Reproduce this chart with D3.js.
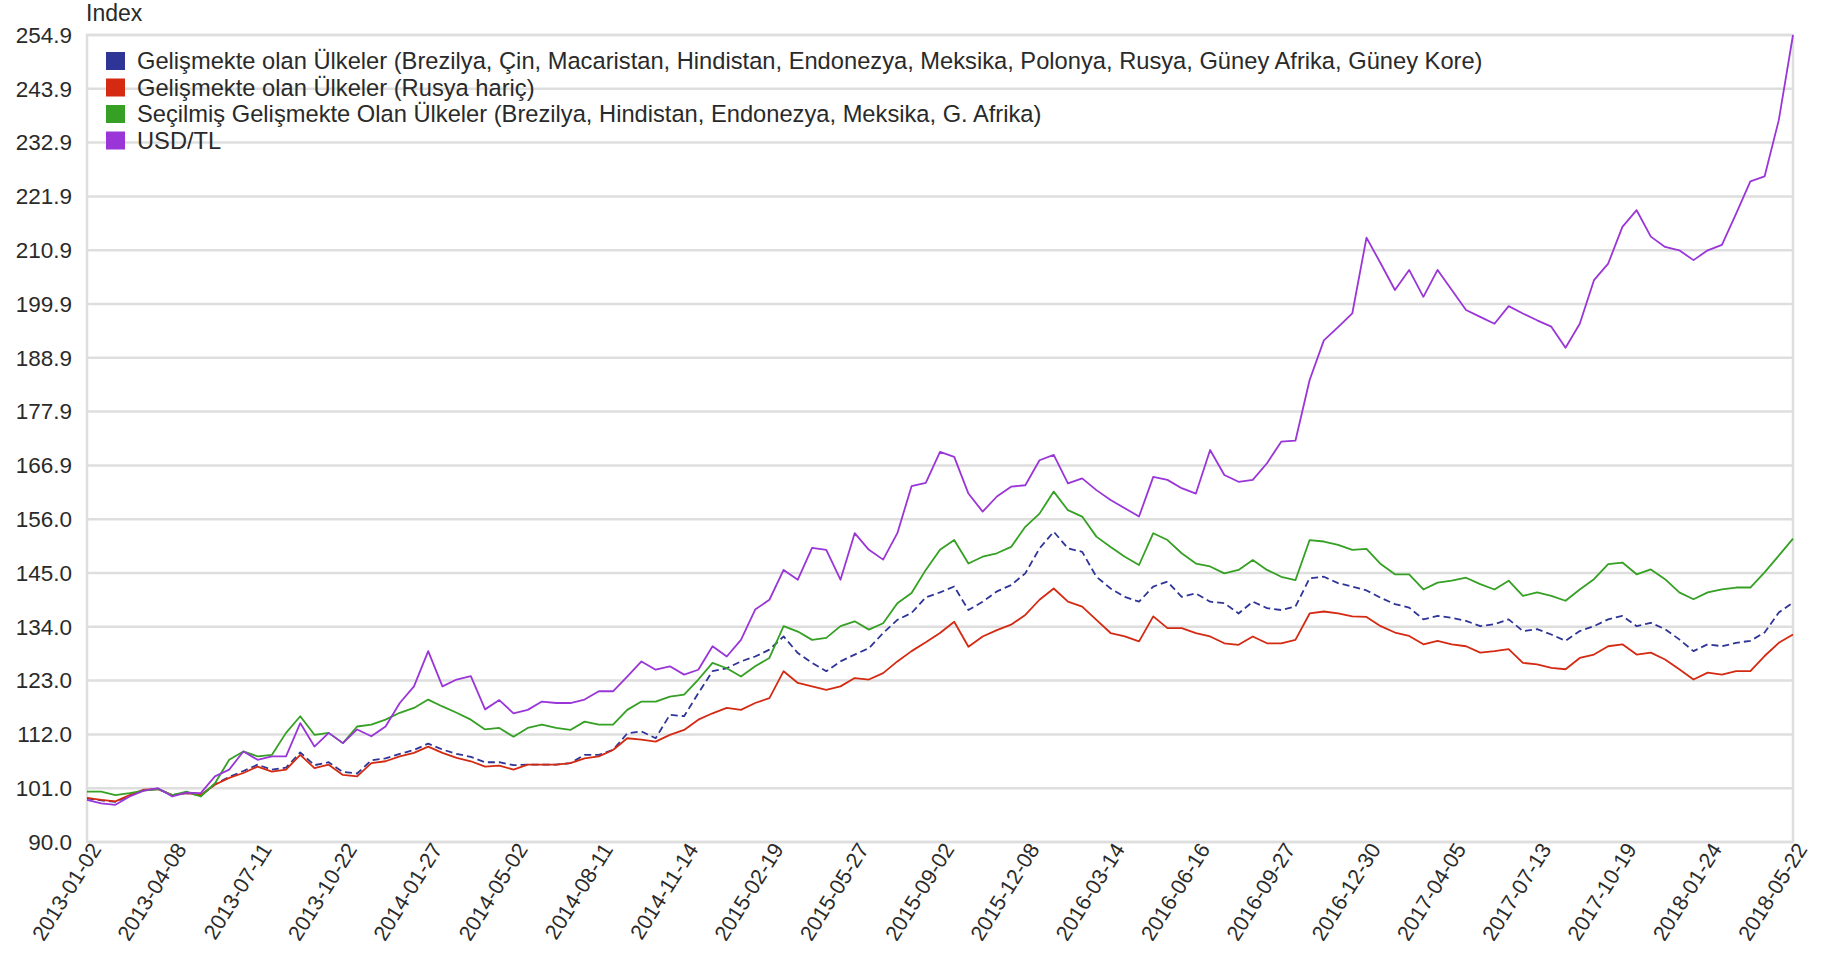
<!DOCTYPE html>
<html>
<head>
<meta charset="utf-8">
<script src="https://cdn.jsdelivr.net/npm/d3@7"></script>
<style>
  body { margin: 0; background: #fff; }
  svg { display: block; font-family: "Liberation Sans", Arial, sans-serif; }
</style>
</head>
<body>
<div id="chart"></div>
<script>
// x tick labels, one every 6 points
const dateLabels = ['2013-01-02','2013-04-08','2013-07-11','2013-10-22','2014-01-27','2014-05-02','2014-08-11',
  '2014-11-14','2015-02-19','2015-05-27','2015-09-02','2015-12-08','2016-03-14','2016-06-16','2016-09-27',
  '2016-12-30','2017-04-05','2017-07-13','2017-10-19','2018-01-24','2018-05-22']
const yTickLabels = ['90.0','101.0','112.0','123.0','134.0','145.0','156.0','166.9','177.9','188.9',
  '199.9','210.9','221.9','232.9','243.9','254.9']

const seriesNames = [
  'Gelişmekte olan Ülkeler (Brezilya, Çin, Macaristan, Hindistan, Endonezya, Meksika, Polonya, Rusya, Güney Afrika, Güney Kore)',
  'Gelişmekte olan Ülkeler (Rusya hariç)',
  'Seçilmiş Gelişmekte Olan Ülkeler (Brezilya, Hindistan, Endonezya, Meksika, G. Afrika)',
  'USD/TL'
]

const emAll = [98.9,98.5,98.2,99.5,100.6,100.8,99.6,100.0,99.5,101.8,103.3,104.5,105.8,104.8,105.2,108.3,105.7,106.3,104.3,104.0,
  106.7,107.1,108.0,108.8,110.1,108.9,108.0,107.4,106.3,106.3,105.7,105.8,105.8,105.8,106.1,107.8,107.8,108.8,112.2,112.6,
  111.2,116.0,115.7,120.4,124.9,125.5,126.9,127.9,129.3,132.0,128.6,126.6,124.9,126.9,128.3,129.6,132.7,135.4,136.8,140.0,
  141.0,142.2,137.4,139.1,141.2,142.5,144.9,150.0,153.4,150.0,149.3,144.2,141.8,140.1,139.1,142.2,143.2,140.1,140.8,139.1,
  138.8,136.7,139.1,137.8,137.4,138.1,143.9,144.2,142.9,142.2,141.4,139.9,138.6,137.9,135.5,136.2,135.8,135.2,134.1,134.5,
  135.5,133.1,133.5,132.4,131.1,133.1,134.1,135.5,136.2,134.1,134.8,133.5,131.4,129.0,130.4,130.0,130.7,131.1,132.8,136.9,138.9]

const emExRussia = [99.0,98.6,98.3,99.6,100.7,100.8,99.6,100.0,99.6,101.7,103.1,104.1,105.4,104.4,104.8,107.8,105.1,105.8,103.7,103.4,
  106.1,106.5,107.5,108.2,109.5,108.2,107.2,106.5,105.4,105.6,104.8,105.8,105.8,105.8,106.1,107.1,107.5,108.8,111.2,110.9,
  110.5,111.9,112.9,115.0,116.3,117.4,117.0,118.4,119.4,124.9,122.5,121.8,121.1,121.8,123.5,123.2,124.5,126.9,129.0,130.8,
  132.7,135.0,129.9,132.0,133.3,134.4,136.4,139.5,141.8,139.1,138.1,135.4,132.7,132.0,131.0,136.1,133.7,133.7,132.7,132.0,
  130.6,130.3,132.0,130.6,130.6,131.3,136.7,137.1,136.7,136.1,136.0,134.1,132.8,132.1,130.4,131.1,130.4,130.0,128.7,129.0,
  129.4,126.6,126.3,125.6,125.3,127.6,128.3,130.0,130.4,128.3,128.7,127.3,125.3,123.2,124.6,124.2,124.9,124.9,128.0,130.7,132.4]

const emSelected = [100.3,100.3,99.6,100.0,100.5,100.8,99.6,100.3,99.3,102.0,106.8,108.5,107.5,107.8,112.3,115.7,111.9,112.3,110.2,113.6,
  114.0,115.0,116.4,117.4,119.1,117.7,116.4,115.0,113.0,113.3,111.5,113.3,114.0,113.3,112.9,114.6,114.0,114.0,117.0,118.7,
  118.7,119.7,120.1,123.2,126.6,125.5,123.8,125.9,127.6,134.1,133.0,131.3,131.7,134.1,135.1,133.4,134.7,138.8,140.9,145.6,
  149.7,151.7,146.9,148.3,149.0,150.3,154.4,157.1,161.6,157.8,156.5,152.4,150.3,148.3,146.6,153.1,151.7,149.0,146.9,146.3,
  144.9,145.6,147.6,145.6,144.2,143.5,151.7,151.4,150.7,149.7,149.9,146.8,144.7,144.7,141.6,143.0,143.4,144.0,142.7,141.6,
  143.4,140.3,141.0,140.3,139.3,141.6,143.7,146.8,147.1,144.7,145.7,143.7,141.0,139.6,141.0,141.6,142.0,142.0,145.1,148.5,152.0]

const usdTl = [98.6,97.9,97.6,99.3,100.5,101.0,99.3,100.1,100.0,103.4,104.8,108.5,106.8,107.5,107.5,114.3,109.5,112.3,110.2,113.0,
  111.6,113.6,118.4,121.8,129.0,121.8,123.2,123.9,117.1,119.0,116.3,117.0,118.7,118.4,118.4,119.1,120.8,120.8,123.8,126.9,
  125.2,125.9,124.2,125.2,130.0,127.9,131.3,137.5,139.5,145.6,143.6,150.1,149.7,143.6,153.1,149.7,147.7,153.1,162.7,163.4,
  169.7,168.7,161.2,157.5,160.6,162.6,162.9,168.0,169.1,163.3,164.3,161.9,159.9,158.2,156.5,164.6,164.0,162.3,161.2,170.1,
  165.0,163.6,164.0,167.4,171.8,172.0,184.4,192.5,195.2,198.0,213.5,208.2,202.8,206.9,201.4,206.9,202.8,198.7,197.3,195.9,
  199.5,198.0,196.6,195.3,191.0,195.9,204.8,208.2,215.7,219.1,213.7,211.6,210.9,208.9,210.9,212.0,218.4,225.0,226.0,237.5,254.9]

const colors = ['#2f3597', '#d42a12', '#35a024', '#9a36d8']

const W = 1833, H = 954
const margin = {top: 35, left: 87, right: 40, bottom: 112}
const width = W - margin.left - margin.right
const height = H - margin.top - margin.bottom

const svg = d3.select('#chart').append('svg')
    .attr('width', W)
    .attr('height', H)

const g = svg.append('g')
    .attr('transform', `translate(${margin.left},${margin.top})`)

const n = usdTl.length
const x = d3.scaleLinear().domain([0, n - 1]).range([0, width])
const y = d3.scaleLinear().domain([90, 254.9]).range([height, 0])

const yTicks = yTickLabels.map((d, i) => 90 + i * (254.9 - 90) / 15)

// grid
g.append('g')
    .selectAll('line')
    .data(yTicks)
    .join('line')
    .attr('x1', 0).attr('x2', width)
    .attr('y1', d => y(d)).attr('y2', d => y(d))
    .attr('stroke', '#dedede')
    .attr('stroke-width', 2.5)

g.append('rect')
    .attr('width', width)
    .attr('height', height)
    .attr('fill', 'none')
    .attr('stroke', '#dedede')
    .attr('stroke-width', 2.5)

// y axis labels
const yAxis = d3.axisLeft(y)
    .tickValues(yTicks)
    .tickFormat((d, i) => yTickLabels[i])
    .tickSize(0)
    .tickPadding(15)
const ya = g.append('g').call(yAxis)
ya.select('.domain').remove()
ya.selectAll('text')
    .attr('font-size', 22.5)
    .attr('fill', '#2a2a2a')
    .attr('font-family', '"Liberation Sans", Arial, sans-serif')

// x axis labels (rotated)
g.append('g')
    .selectAll('text')
    .data(dateLabels)
    .join('text')
    .attr('transform', (d, i) => `translate(${x(i * 6) + 15},${height + 7}) rotate(-58)`)
    .attr('text-anchor', 'end')
    .attr('font-size', 21.5)
    .attr('fill', '#2a2a2a')
    .text(d => d)

// lines
const line = d3.line()
    .x((d, i) => x(i))
    .y(d => y(d))

const allSeries = [emAll, emExRussia, emSelected, usdTl]
allSeries.forEach((s, k) => {
    g.append('path')
        .datum(s)
        .attr('fill', 'none')
        .attr('stroke', colors[k])
        .attr('stroke-width', 1.8)
        .attr('stroke-linejoin', 'round')
        .attr('stroke-dasharray', k === 0 ? '7,4' : null)
        .attr('d', line)
})

// legend
const legend = svg.append('g')
    .attr('transform', 'translate(106,52)')
const items = legend.selectAll('g')
    .data(seriesNames)
    .join('g')
    .attr('transform', (d, i) => `translate(0,${i * 26.5})`)
items.append('rect')
    .attr('width', 19)
    .attr('height', 18)
    .attr('fill', (d, i) => colors[i])
items.append('text')
    .attr('x', 31)
    .attr('y', 9)
    .attr('dy', '0.35em')
    .attr('font-size', 23.7)
    .attr('fill', '#2a2a2a')
    .text(d => d)

svg.append('text')
    .attr('x', 86)
    .attr('y', 21)
    .attr('font-size', 23)
    .attr('fill', '#2a2a2a')
    .text('Index')
</script>
</body>
</html>
